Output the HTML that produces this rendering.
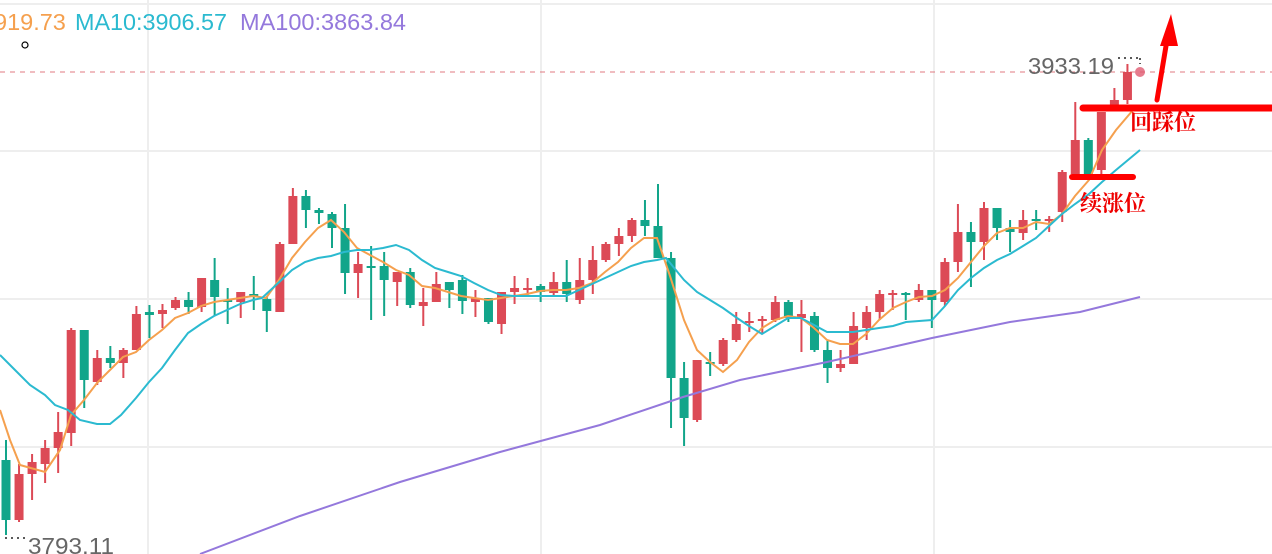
<!DOCTYPE html>
<html><head><meta charset="utf-8"><style>
html,body{margin:0;padding:0;background:#fff;width:1272px;height:554px;overflow:hidden}
svg{display:block}
</style></head><body>
<svg id="s" width="1272" height="554" xmlns="http://www.w3.org/2000/svg" font-family="Liberation Sans, sans-serif">
<g stroke="#eeeeee" stroke-width="2">
<line x1="0" y1="4" x2="1272" y2="4"/><line x1="0" y1="151" x2="1272" y2="151"/>
<line x1="0" y1="299" x2="1272" y2="299"/><line x1="0" y1="447" x2="1272" y2="447"/>
<line x1="148" y1="0" x2="148" y2="554"/><line x1="541" y1="0" x2="541" y2="554"/><line x1="934" y1="0" x2="934" y2="554"/>
</g>
<line x1="0" y1="72" x2="1272" y2="72" stroke="#e07a80" stroke-width="1" stroke-dasharray="5,5"/>
<g id="c"></g>
<polyline id="m5" fill="none" stroke="#f5a04e" stroke-width="2"/>
<polyline id="m10" fill="none" stroke="#2bbad0" stroke-width="2"/>
<polyline id="m100" fill="none" stroke="#9478dc" stroke-width="2" points="200,554 300,516 400,482 500,452 600,425 683,397 740,380 827,362 932,338 1010,322 1080,312 1140,297"/>
<circle cx="1140" cy="72" r="5" fill="#e05a70" opacity="0.8"/>
<text x="1028" y="74" font-size="23.5" fill="#666" textLength="86" lengthAdjust="spacingAndGlyphs">3933.19</text>
<line x1="1118" y1="58" x2="1140" y2="58" stroke="#222" stroke-width="1.5" stroke-dasharray="2,4"/>
<line x1="1140" y1="58" x2="1140" y2="64" stroke="#222" stroke-width="1.5" stroke-dasharray="2,3"/>
<text x="28" y="554" font-size="23.5" fill="#666" textLength="86" lengthAdjust="spacingAndGlyphs">3793.11</text>
<line x1="5" y1="538" x2="27" y2="538" stroke="#222" stroke-width="1.5" stroke-dasharray="2,4"/>
<text x="-6" y="30" font-size="23.5"><tspan fill="#f5a04e">919.73</tspan><tspan fill="#2bbad0" x="75" textLength="152" lengthAdjust="spacingAndGlyphs">MA10:3906.57</tspan><tspan fill="#9478dc" x="240" textLength="166" lengthAdjust="spacingAndGlyphs">MA100:3863.84</tspan></text>
<circle cx="25" cy="45" r="3" fill="none" stroke="#000" stroke-width="1.2"/>
<g stroke="#f00" stroke-linecap="round">
<line x1="1083" y1="108" x2="1272" y2="108" stroke-width="7"/>
<line x1="1072" y1="177" x2="1133" y2="177" stroke-width="6"/>
<line x1="1157" y1="100" x2="1169" y2="28" stroke-width="5"/>
</g>
<polygon points="1171,14 1160,46 1178,46" fill="#f00"/>
<text x="1130" y="130" font-size="22" fill="#e00" font-weight="bold" font-family="Liberation Serif, Noto Serif CJK SC, serif">回踩位</text>
<text x="1080" y="211" font-size="22" fill="#e00" font-weight="bold" font-family="Liberation Serif, Noto Serif CJK SC, serif">续涨位</text>
</svg>
<script>
var d=[
['g',460,520,440,535],['r',474,520,464,522],['r',462,474,454,500],['r',448,464,440,483],['r',432,448,412,473],
['r',330,433,328,446],['g',330,380,330,408],['r',358,382,350,385],['g',358,363,346,368],['r',350,363,348,378],
['r',314,350,306,350],['g',312,315,305,338],['r',310,314,304,328],['r',300,308,297,310],['g',300,307,292,314],
['r',278,307,278,312],['g',280,297,258,316],['g',300,302,288,324],['r',292,302,292,318],['g',294,297,276,310],
['g',299,311,296,332],['r',244,312,242,312],['r',196,244,188,244],['g',196,210,190,228],['g',210,213,208,224],
['g',214,228,212,248],['g',228,273,204,294],['r',264,273,252,298],['g',266,268,246,320],['g',266,280,252,316],
['r',272,282,272,306],['g',272,305,268,308],['r',302,306,288,326],['r',284,302,272,302],['g',282,290,282,308],
['g',280,301,275,314],['r',298,302,290,317],['g',298,322,298,324],['r',292,324,292,334],['r',288,292,276,304],
['r',288,290,278,296],['g',286,292,284,302],['r',282,293,272,296],['g',282,294,260,302],['r',280,300,258,304],
['r',260,280,246,294],['r',244,260,242,262],['r',236,244,228,256],['r',220,236,218,242],['g',220,226,200,236],
['g',226,258,184,258],['g',258,378,252,428],['g',378,418,362,446],['r',360,420,360,422],['g',362,364,352,376],
['r',340,364,338,366],['r',324,340,312,342],['r',321,323,312,332],['r',319,321,316,334],['r',302,320,296,322],
['g',302,318,300,322],['r',314,318,300,352],['g',316,350,312,352],['g',350,368,340,383],['r',364,368,350,372],
['r',326,364,312,364],['r',312,328,306,340],['r',294,312,290,320],['r',293,295,290,310],['g',293,295,292,320],
['r',290,300,284,302],['g',290,300,290,328],['r',262,302,258,306],['r',232,262,204,272],['g',232,242,222,287],
['r',208,242,202,260],['g',208,228,208,240],['g',228,232,220,252],['r',220,233,210,240],['g',219,221,210,230],
['r',219,221,216,232],['r',172,212,170,222],['r',140,174,102,178],['g',140,174,138,176],['r',112,170,112,174],
['r',100,108,88,110],['r',72,100,64,104]];
var g=document.getElementById('c'),h='';
d.forEach(function(c,i){var x=6+i*13.04,col=c[0]=='r'?'#dc4a56':'#12a58a';
h+='<line x1="'+x+'" x2="'+x+'" y1="'+c[3]+'" y2="'+c[4]+'" stroke="'+col+'" stroke-width="2"/>';
h+='<rect x="'+(x-4.5)+'" width="9" y="'+c[1]+'" height="'+Math.max(2,c[2]-c[1])+'" fill="'+col+'"/>';});
g.innerHTML=h;
document.getElementById('m5').setAttribute('points',"0,410 10,440 20,465 45,472 60,450 71,415 84,400 97,383 110,370 123,357 136,352 149,340 162,330 175,318 188,313 201,306 214,302 227,300 240,298 253,296 266,298 279,280 292,258 305,242 318,228 331,220 344,232 357,248 370,255 383,262 396,270 409,275 422,286 435,288 448,292 461,296 474,298 488,300 501,298 514,296 527,294 540,291 553,290 566,290 579,288 592,283 605,272 618,262 631,248 644,238 657,238 670,276 684,320 697,350 710,362 723,372 737,360 749,342 762,328 775,320 788,316 801,318 814,328 827,340 840,344 853,344 866,334 879,320 893,308 906,302 919,297 932,296 945,290 958,278 971,262 984,246 997,233 1010,228 1023,228 1036,222 1049,224 1062,214 1075,196 1089,180 1102,150 1116,130 1133,110");
document.getElementById('m10').setAttribute('points',"0,355 15,370 30,385 45,395 55,405 68,410 80,420 97,424 110,424 121,415 136,398 149,382 162,368 175,350 188,333 201,324 214,316 227,310 240,304 253,300 262,298 275,286 292,270 305,262 318,258 331,256 344,252 357,250 370,250 383,248 396,245 409,250 422,260 435,268 448,272 461,276 474,283 488,290 501,295 514,296 527,296 540,296 553,296 566,296 579,290 592,284 605,278 618,272 631,266 644,262 657,260 666,258 684,280 697,292 710,300 723,308 737,318 749,326 762,334 775,326 788,318 801,318 814,325 827,332 840,332 853,332 866,330 879,328 893,326 906,322 919,321 932,320 945,306 958,290 971,278 984,268 997,260 1010,254 1023,246 1036,238 1049,226 1062,214 1075,204 1089,194 1102,182 1116,170 1140,150");
</script>
</body></html>
